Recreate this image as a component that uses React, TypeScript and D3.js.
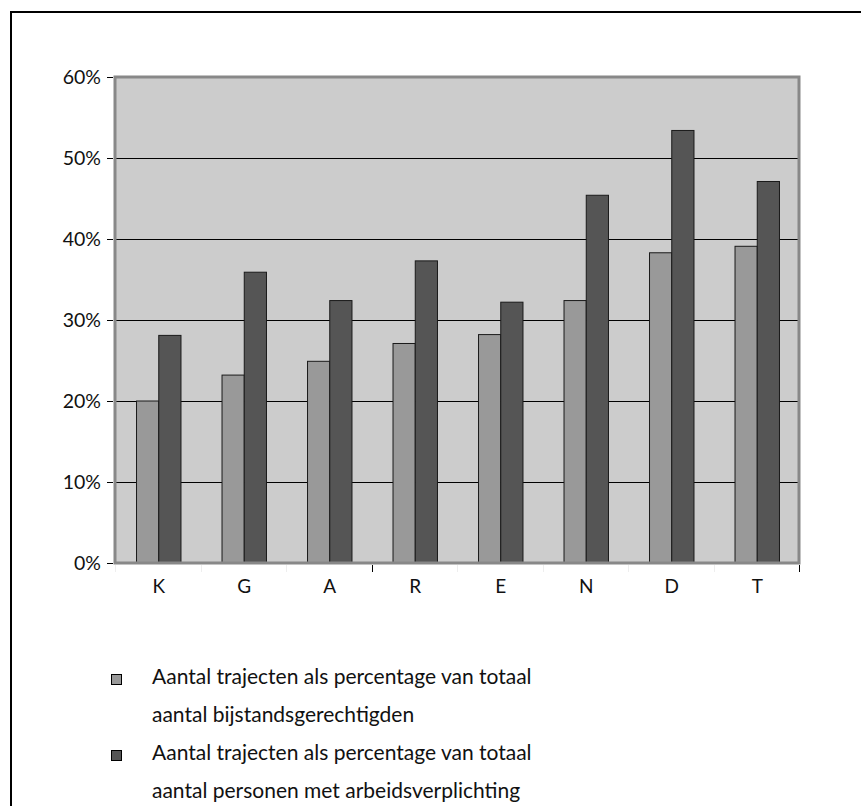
import React from "react";
import * as d3 from "d3";

// Municipalities (abbreviated) along the x axis
const categories = ["K", "G", "A", "R", "E", "N", "D", "T"];
// Trajectories as share of all social-assistance recipients
const seriesBijstand = [0.2, 0.232, 0.249, 0.271, 0.282, 0.324, 0.383, 0.391];
// Trajectories as share of people with a work obligation
const seriesArbeid = [0.281, 0.359, 0.324, 0.373, 0.322, 0.454, 0.534, 0.471];
const yTicks = [0, 0.1, 0.2, 0.3, 0.4, 0.5, 0.6];
const legendLines = [
  ["Aantal trajecten als percentage van totaal", "aantal bijstandsgerechtigden"],
  ["Aantal trajecten als percentage van totaal", "aantal personen met arbeidsverplichting"],
];

const W = 861;
const H = 806;
const plot = { left: 115, right: 799, top: 77, bottom: 563 };
const FONT = "Lato, 'Open Sans', sans-serif";
const COLORS = ["#999999", "#555555"];

export default function App() {
  const x = d3.scaleBand<string>().domain(categories).range([plot.left, plot.right]).padding(0);
  const y = d3.scaleLinear().domain([0, 0.6]).range([plot.bottom, plot.top]);
  const bw = x.bandwidth() * 0.26;
  const fmt = d3.format(".0%");
  const series = [seriesBijstand, seriesArbeid];

  const boundaries = categories.map((_, i) => plot.left + i * x.step()).concat([plot.right]);

  return (
    <svg
      width={W}
      height={H}
      style={{ position: "absolute", left: 0, top: 0, background: "#fff" }}
      fontFamily={FONT}
    >
      {/* outer frame */}
      <rect x={11} y={12} width={960} height={900} fill="none" stroke="#000" strokeWidth={2} />

      {/* plot background */}
      <rect
        x={plot.left}
        y={plot.top}
        width={plot.right - plot.left}
        height={plot.bottom - plot.top}
        fill="#cccccc"
      />

      {/* gridlines */}
      {yTicks.slice(1, -1).map((t) => (
        <line
          key={"g" + t}
          x1={plot.left}
          x2={plot.right}
          y1={Math.round(y(t)) + 0.5}
          y2={Math.round(y(t)) + 0.5}
          stroke="#000"
          strokeWidth={1}
        />
      ))}

      {/* bars */}
      {categories.map((c, i) => {
        const cx = (x(c) as number) + x.bandwidth() / 2 + 1;
        return series.map((s, k) => (
          <rect
            key={c + k}
            x={cx - bw + k * bw}
            y={y(s[i])}
            width={bw}
            height={plot.bottom - y(s[i])}
            fill={COLORS[k]}
            stroke="#1a1a1a"
            strokeWidth={1}
          />
        ));
      })}

      {/* plot border */}
      <rect
        x={plot.left}
        y={plot.top}
        width={plot.right - plot.left}
        height={plot.bottom - plot.top}
        fill="none"
        stroke="#888888"
        strokeWidth={3}
      />

      {/* y axis ticks and labels */}
      {yTicks.map((t) => (
        <g key={"y" + t}>
          <line
            x1={107}
            x2={113}
            y1={Math.round(y(t)) + 0.5}
            y2={Math.round(y(t)) + 0.5}
            stroke="#000"
            strokeWidth={1}
          />
          <text x={101} y={y(t)} dy="0.36em" textAnchor="end" fontSize={19.5} fill="#111">
            {fmt(t)}
          </text>
        </g>
      ))}

      {/* x axis ticks between categories */}
      {boundaries.map((bx, i) => (
        <line
          key={"xt" + i}
          x1={Math.round(bx) + 0.5}
          x2={Math.round(bx) + 0.5}
          y1={plot.bottom + 2}
          y2={plot.bottom + 9}
          stroke={i === 3 || i === categories.length ? "#000" : "#eeeeee"}
          strokeWidth={1}
        />
      ))}

      {/* category labels */}
      {categories.map((c) => (
        <text
          key={"xl" + c}
          x={(x(c) as number) + x.bandwidth() / 2 + 1}
          y={593}
          textAnchor="middle"
          fontSize={19}
          fill="#111"
        >
          {c}
        </text>
      ))}

      {/* legend */}
      {legendLines.map((lines, k) => {
        const top = 674 + k * 76;
        return (
          <g key={"lg" + k}>
            <rect x={111.5} y={top + 0.5} width={10} height={10} fill={COLORS[k]} stroke="#000" strokeWidth={1} />
            {lines.map((ln, j) => (
              <text key={j} x={152} y={top + 10 + j * 38} fontSize={21} fill="#111">
                {ln}
              </text>
            ))}
          </g>
        );
      })}
    </svg>
  );
}
